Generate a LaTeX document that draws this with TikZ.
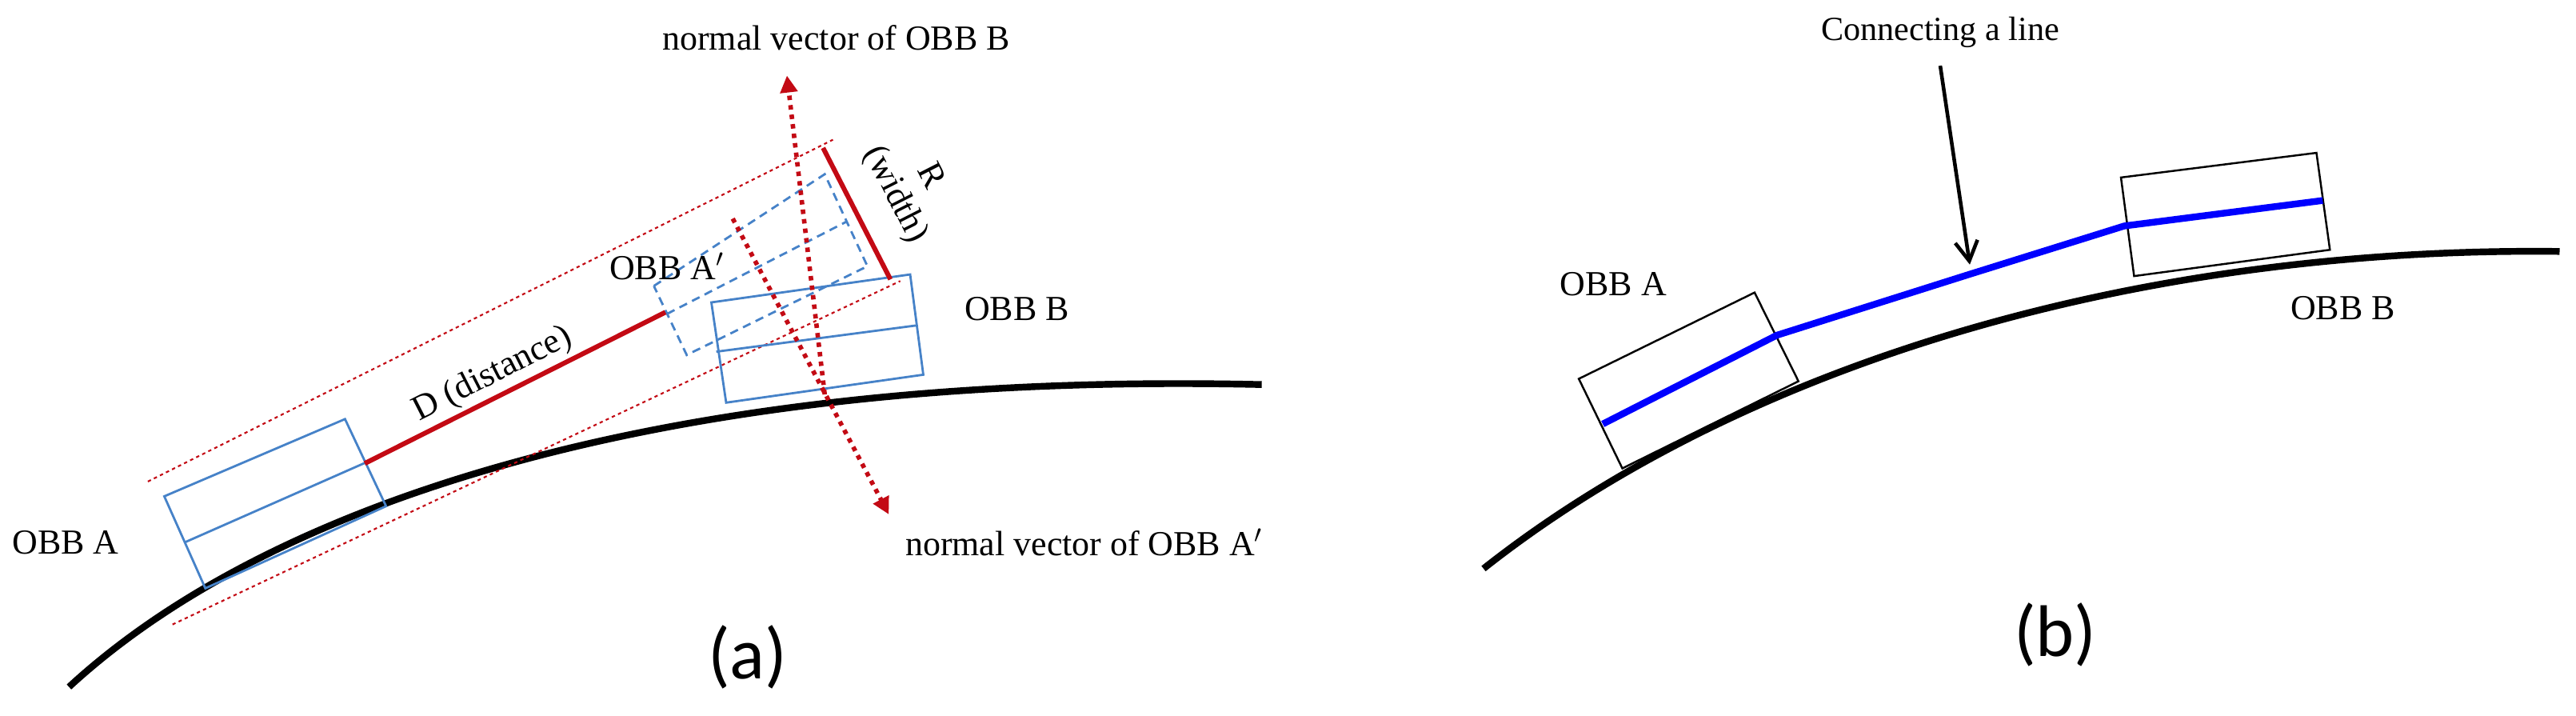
\documentclass[tikz,border=0pt]{standalone}
\usepackage{fontspec}
\setmainfont{Liberation Serif}
\newfontfamily\capfont{Carlito}
\usetikzlibrary{arrows.meta,calc}
\definecolor{obbblue}{RGB}{70,130,200}
\definecolor{obbred}{RGB}{195,10,20}
\tikzset{
  ground/.style={line width=2.4pt,black},
  boxline/.style={obbblue,line width=0.8pt},
  boxdash/.style={obbblue,line width=0.8pt,dash pattern=on 3pt off 2pt},
  guide/.style={obbred,line width=0.6pt,dash pattern=on 1.2pt off 1.2pt},
  normalv/.style={obbred,line width=1.6pt,dash pattern=on 1.6pt off 1.8pt,-{Triangle[length=6pt,width=6pt]}},
  lbl/.style={font=\fontsize{12.5}{14}\selectfont,inner sep=0pt},
  subcap/.style={font=\capfont\fontsize{26}{30}\selectfont,inner sep=0pt},
}
\begin{document}
\begin{tikzpicture}[x=0.020542cm,y=-0.020542cm]
\useasboundingbox (0,0) rectangle (1568,435.2);
% ---------- (a) ----------
\draw[ground] (42,418) .. controls (170,300) and (420,226) .. (768,234);
% guide lines
\coordinate (gu1) at (90,293); \coordinate (gu2) at (507,85);
\coordinate (gl1) at (105,380); \coordinate (gl2) at (548,171);
\draw[guide] (gu1) -- (gu2);
\draw[guide] (gl1) -- (gl2);
% OBB A
\coordinate (a1) at (100,302); \coordinate (a2) at (210,255);
\coordinate (a3) at (235,308); \coordinate (a4) at (125,358);
\draw[boxline] (a1) -- (a2) -- (a3) -- (a4) -- cycle;
\draw[boxline] ($(a1)!0.5!(a4)$) -- ($(a2)!0.5!(a3)$);
% OBB A'
\coordinate (p1) at (398,174); \coordinate (p2) at (502,106);
\coordinate (p3) at (528,162); \coordinate (p4) at (418,216);
\draw[boxdash] (p1) -- (p2) -- (p3) -- (p4) -- cycle;
\draw[boxdash] (406,191) -- (515,135);
% OBB B
\coordinate (b1) at (433,184); \coordinate (b2) at (554,167);
\coordinate (b3) at (562,228); \coordinate (b4) at (442,245);
\draw[boxline] (b1) -- (b2) -- (b3) -- (b4) -- cycle;
\draw[boxline] (436,214) -- (558,198);
% D line and R line
\coordinate (d1) at (222,282); \coordinate (d2) at (405,190);
\draw[obbred,line width=1.7pt] (d1) -- (d2);
\coordinate (r1) at (501,90); \coordinate (r2) at (542,170);
\draw[obbred,line width=1.7pt] (r1) -- (r2);
% normal vectors
\coordinate (nb1) at (502,240); \coordinate (nb2) at (479,46);
\coordinate (na1) at (446,133); \coordinate (na2) at (541,313);
\draw[normalv] (nb1) -- (nb2);
\draw[normalv] (na1) -- (na2);
% labels
\node[lbl] (tnb) at (509,23) {normal vector of OBB B};
\node[lbl] (tna) at (660,330) {normal vector of OBB A$'$};
\node[lbl] (tA) at (40,330) {OBB A};
\node[lbl] (tB) at (619,188) {OBB B};
\node[lbl] (tAp) at (406,162) {OBB A$'$};
\node[lbl,rotate=27] (tD) at (300,228) {D (distance)};
\node[lbl,rotate=-63,align=center] (tR) at (555,113) {R\\(width)};
\node[subcap] (ca) at (455,400) {(a)};
% ---------- (b) ----------
\draw[ground] (903,346) .. controls (1060,222) and (1300,150) .. (1558,153);
\draw[black,line width=0.7pt] (961,230.5) -- (1068,178) -- (1094.7,232) -- (987.5,285) -- cycle;
\draw[black,line width=0.7pt] (1291,108) -- (1410,93) -- (1418.2,152) -- (1299,168) -- cycle;
\draw[blue,line width=2.4pt,line join=round] (975.6,258) -- (1081.5,204) -- (1198.5,167) -- (1293,137.5) -- (1413.8,122);
\coordinate (ar1) at (1181,40); \coordinate (ar2) at (1199,161);
\draw[black,line width=1.3pt,-{Straight Barb[length=7pt,width=8pt]}] (ar1) -- (ar2);
\node[lbl,font=\fontsize{12}{14}\selectfont] (tc) at (1181,19.5) {Connecting a line};
\node[lbl] (tbA) at (982,173) {OBB A};
\node[lbl] (tbB) at (1426,187.5) {OBB B};
\node[subcap] (cb) at (1251,386) {(b)};
\end{tikzpicture}
\end{document}
